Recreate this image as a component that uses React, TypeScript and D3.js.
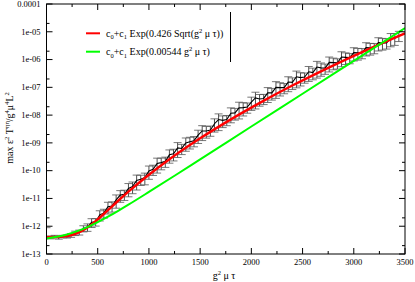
import React from "react";
import * as d3 from "d3";

const W = 415, H = 282;
const M = { left: 46.5, right: 405, top: 4, bottom: 254 };

const xTicks = [0, 500, 1000, 1500, 2000, 2500, 3000, 3500];
const xMinor = [250, 750, 1250, 1750, 2250, 2750, 3250];
const yTicks = [1e-13, 1e-12, 1e-11, 1e-10, 1e-9, 1e-8, 1e-7, 1e-6, 1e-5, 1e-4];
const yTickLabels = ["1e-13", "1e-12", "1e-11", "1e-10", "1e-09", "1e-08", "1e-07", "1e-06", "1e-05", "0.0001"];
const yMinor = [2e-13, 2e-12, 2e-11, 2e-10, 2e-9, 2e-8, 2e-7, 2e-6, 2e-5];

// red fit curve
const redX = [0, 100, 200, 300, 400, 500, 600, 700, 800, 1000, 1200, 1500, 1800, 2100, 2400, 2700, 3000, 3300, 3500];
const redY = [4.0e-13, 4.07e-13, 4.41e-13, 5.6e-13, 9.0e-13, 1.77e-12, 3.79e-12, 8.25e-12, 1.75e-11, 7.1e-11, 2.57e-10, 1.46e-9, 7.04e-9, 3.0e-8, 1.16e-7, 4.1e-7, 1.36e-6, 4.25e-6, 8.8e-6];

// green fit curve
const greenX = [0, 100, 200, 300, 400, 500, 600, 700, 800, 1000, 1250, 1500, 2000, 2500, 3000, 3500];
const greenY = [3.63e-13, 4.16e-13, 5.07e-13, 6.63e-13, 9.33e-13, 1.4e-12, 2.2e-12, 3.58e-12, 5.95e-12, 1.71e-11, 6.55e-11, 2.55e-10, 3.88e-9, 5.88e-8, 8.93e-7, 1.355e-5];

// data points: x, log10(value), relative error
const dataX = [0, 40, 80, 120, 160, 200, 240, 280, 320, 360, 400, 440, 480, 520, 560, 600, 640, 680, 720, 760, 800, 840, 880, 920, 960, 1000, 1040, 1080, 1120, 1160, 1200, 1240, 1280, 1320, 1360, 1400, 1440, 1480, 1520, 1560, 1600, 1640, 1680, 1720, 1760, 1800, 1840, 1880, 1920, 1960, 2000, 2040, 2080, 2120, 2160, 2200, 2240, 2280, 2320, 2360, 2400, 2440, 2480, 2520, 2560, 2600, 2640, 2680, 2720, 2760, 2800, 2840, 2880, 2920, 2960, 3000, 3040, 3080, 3120, 3160, 3200, 3240, 3280, 3320, 3360, 3400, 3440];
const dataLog10 = [-12.45, -12.40, -12.37, -12.41, -12.37, -12.37, -12.33, -12.25, -12.22, -12.08, -12.03, -11.86, -11.84, -11.59, -11.52, -11.30, -11.27, -11.05, -10.88, -10.85, -10.64, -10.57, -10.35, -10.31, -10.25, -10.01, -9.95, -9.74, -9.71, -9.66, -9.43, -9.39, -9.18, -9.20, -9.00, -8.96, -8.92, -8.72, -8.57, -8.57, -8.54, -8.31, -8.16, -8.19, -8.16, -7.93, -7.92, -7.74, -7.73, -7.71, -7.53, -7.38, -7.42, -7.40, -7.20, -7.20, -7.00, -7.01, -7.01, -6.81, -6.82, -6.62, -6.65, -6.63, -6.44, -6.47, -6.27, -6.30, -6.31, -6.10, -6.11, -6.12, -5.91, -5.92, -5.93, -5.75, -5.76, -5.75, -5.57, -5.58, -5.57, -5.39, -5.40, -5.40, -5.24, -5.23, -5.13];
const dataErr = [1.5, 0.12, 0.1, 0.12, 0.1, 0.12, 0.15, 0.18, 0.2, 0.25, 0.3, 0.35, 0.3, 0.4, 0.35, 0.45, 0.4, 0.5, 0.45, 0.4, 0.5, 0.45, 0.55, 0.4, 0.45, 0.5, 0.4, 0.55, 0.45, 0.4, 0.5, 0.45, 0.55, 0.4, 0.5, 0.45, 0.4, 0.5, 0.55, 0.45, 0.4, 0.5, 0.6, 0.45, 0.4, 0.55, 0.45, 0.6, 0.5, 0.4, 0.5, 0.6, 0.45, 0.4, 0.55, 0.45, 0.6, 0.5, 0.4, 0.55, 0.45, 0.6, 0.5, 0.4, 0.55, 0.45, 0.6, 0.5, 0.4, 0.55, 0.45, 0.4, 0.55, 0.45, 0.4, 0.5, 0.45, 0.4, 0.5, 0.45, 0.4, 0.5, 0.45, 0.4, 0.5, 0.45, 0.4];

const FONT = "'Liberation Serif', 'DejaVu Serif', serif";

export default function App() {
  const x = d3.scaleLinear().domain([0, 3500]).range([M.left, M.right]);
  const y = d3.scaleLog().domain([1e-13, 1e-4]).range([M.bottom, M.top]);

  const fitLine = d3.line<[number, number]>().x(d => x(d[0])).y(d => y(d[1])).curve(d3.curveMonotoneX);
  const redPath = fitLine(redX.map((v, i) => [v, redY[i]]) as [number, number][]) || "";
  const greenPath = fitLine(greenX.map((v, i) => [v, greenY[i]]) as [number, number][]) || "";

  const pts = dataX.map((v, i) => {
    const val = Math.pow(10, dataLog10[i]);
    const lo = val * (1 - dataErr[i]);
    return {
      px: x(v),
      py: y(val),
      pHi: y(val * (1 + dataErr[i])),
      pLo: lo > 0 ? y(Math.max(lo, 1e-14)) : M.bottom + 10,
    };
  });
  const dataPath = d3.line<{ px: number; py: number }>().x(d => d.px).y(d => d.py)(pts) || "";

  const cap = 4;
  return (
    <svg width={W} height={H} style={{ position: "absolute", left: 0, top: 0, background: "#fff" }} fontFamily={FONT}>
      <defs>
        <clipPath id="plot">
          <rect x={M.left} y={M.top} width={M.right - M.left} height={M.bottom - M.top} />
        </clipPath>
      </defs>
      <rect width={W} height={H} fill="#fff" />
      <g clipPath="url(#plot)">
        {pts.map((p, i) => (
          <g key={i} stroke="#555" strokeWidth={0.8}>
            <line x1={p.px} x2={p.px} y1={p.pHi} y2={p.pLo} stroke="#222" />
            <line x1={p.px - cap} x2={p.px + cap} y1={p.pHi} y2={p.pHi} />
            <line x1={p.px - cap} x2={p.px + cap} y1={p.pLo} y2={p.pLo} />
          </g>
        ))}
        <path d={dataPath} fill="none" stroke="#000" strokeWidth={1.1} />
        <path d={redPath} fill="none" stroke="#ff0000" strokeWidth={2.4} />
        <path d={greenPath} fill="none" stroke="#00ff00" strokeWidth={2} />
      </g>
      {/* frame */}
      <rect x={M.left} y={M.top} width={M.right - M.left} height={M.bottom - M.top} fill="none" stroke="#000" strokeWidth={1} />
      {/* x ticks */}
      {xTicks.map(t => (
        <g key={"xt" + t} stroke="#000">
          <line x1={x(t)} x2={x(t)} y1={M.bottom} y2={M.bottom - 6} />
          <line x1={x(t)} x2={x(t)} y1={M.top} y2={M.top + 6} />
        </g>
      ))}
      {xMinor.map(t => (
        <g key={"xm" + t} stroke="#000">
          <line x1={x(t)} x2={x(t)} y1={M.bottom} y2={M.bottom - 3} />
          <line x1={x(t)} x2={x(t)} y1={M.top} y2={M.top + 3} />
        </g>
      ))}
      {xTicks.map(t => (
        <text key={"xl" + t} x={x(t)} y={M.bottom + 11} fontSize={8.5} textAnchor="middle">{t}</text>
      ))}
      {/* y ticks */}
      {yTicks.map(t => (
        <g key={"yt" + t} stroke="#000">
          <line x1={M.left} x2={M.left + 6} y1={y(t)} y2={y(t)} />
          <line x1={M.right} x2={M.right - 6} y1={y(t)} y2={y(t)} />
        </g>
      ))}
      {yMinor.map(t => (
        <g key={"ym" + t} stroke="#000">
          <line x1={M.left} x2={M.left + 3} y1={y(t)} y2={y(t)} />
          <line x1={M.right} x2={M.right - 3} y1={y(t)} y2={y(t)} />
        </g>
      ))}
      {yTicks.map((t, i) => (
        <text key={"yl" + t} x={M.left - 6} y={y(t)} dy="0.33em" fontSize={8.5} textAnchor="end">{yTickLabels[i]}</text>
      ))}
      {/* axis titles */}
      <text x={224} y={279} fontSize={10} textAnchor="middle">
        g<tspan dy={-4} fontSize={6.5}>2</tspan><tspan dy={4}> μ τ</tspan>
      </text>
      <text transform="translate(12.5,128) rotate(-90)" fontSize={10} textAnchor="middle">
        max ε<tspan dy={-4} fontSize={6.5}>2</tspan><tspan dy={4}> T</tspan><tspan dy={-4} fontSize={6.5}>ηη</tspan><tspan dy={4}>/g</tspan><tspan dy={-4} fontSize={6.5}>4</tspan><tspan dy={4}>μ</tspan><tspan dy={-4} fontSize={6.5}>4</tspan><tspan dy={4}>L</tspan><tspan dy={-4} fontSize={6.5}>2</tspan>
      </text>
      {/* legend */}
      <line x1={230.5} x2={230.5} y1={12} y2={62} stroke="#000" strokeWidth={1} />
      <line x1={86} x2={100} y1={33.3} y2={33.3} stroke="#ff0000" strokeWidth={2} />
      <line x1={86} x2={100} y1={51.7} y2={51.7} stroke="#00ff00" strokeWidth={2} />
      <text x={106} y={36.7} fontSize={10}>
        c<tspan dy={2.5} fontSize={6.5}>0</tspan><tspan dy={-2.5}>+c</tspan><tspan dy={2.5} fontSize={6.5}>1</tspan><tspan dy={-2.5}> Exp(0.426 Sqrt(g</tspan><tspan dy={-4} fontSize={6.5}>2</tspan><tspan dy={4}> μ τ))</tspan>
      </text>
      <text x={106} y={55} fontSize={10}>
        c<tspan dy={2.5} fontSize={6.5}>0</tspan><tspan dy={-2.5}>+c</tspan><tspan dy={2.5} fontSize={6.5}>1</tspan><tspan dy={-2.5}> Exp(0.00544 g</tspan><tspan dy={-4} fontSize={6.5}>2</tspan><tspan dy={4}> μ τ)</tspan>
      </text>
    </svg>
  );
}
